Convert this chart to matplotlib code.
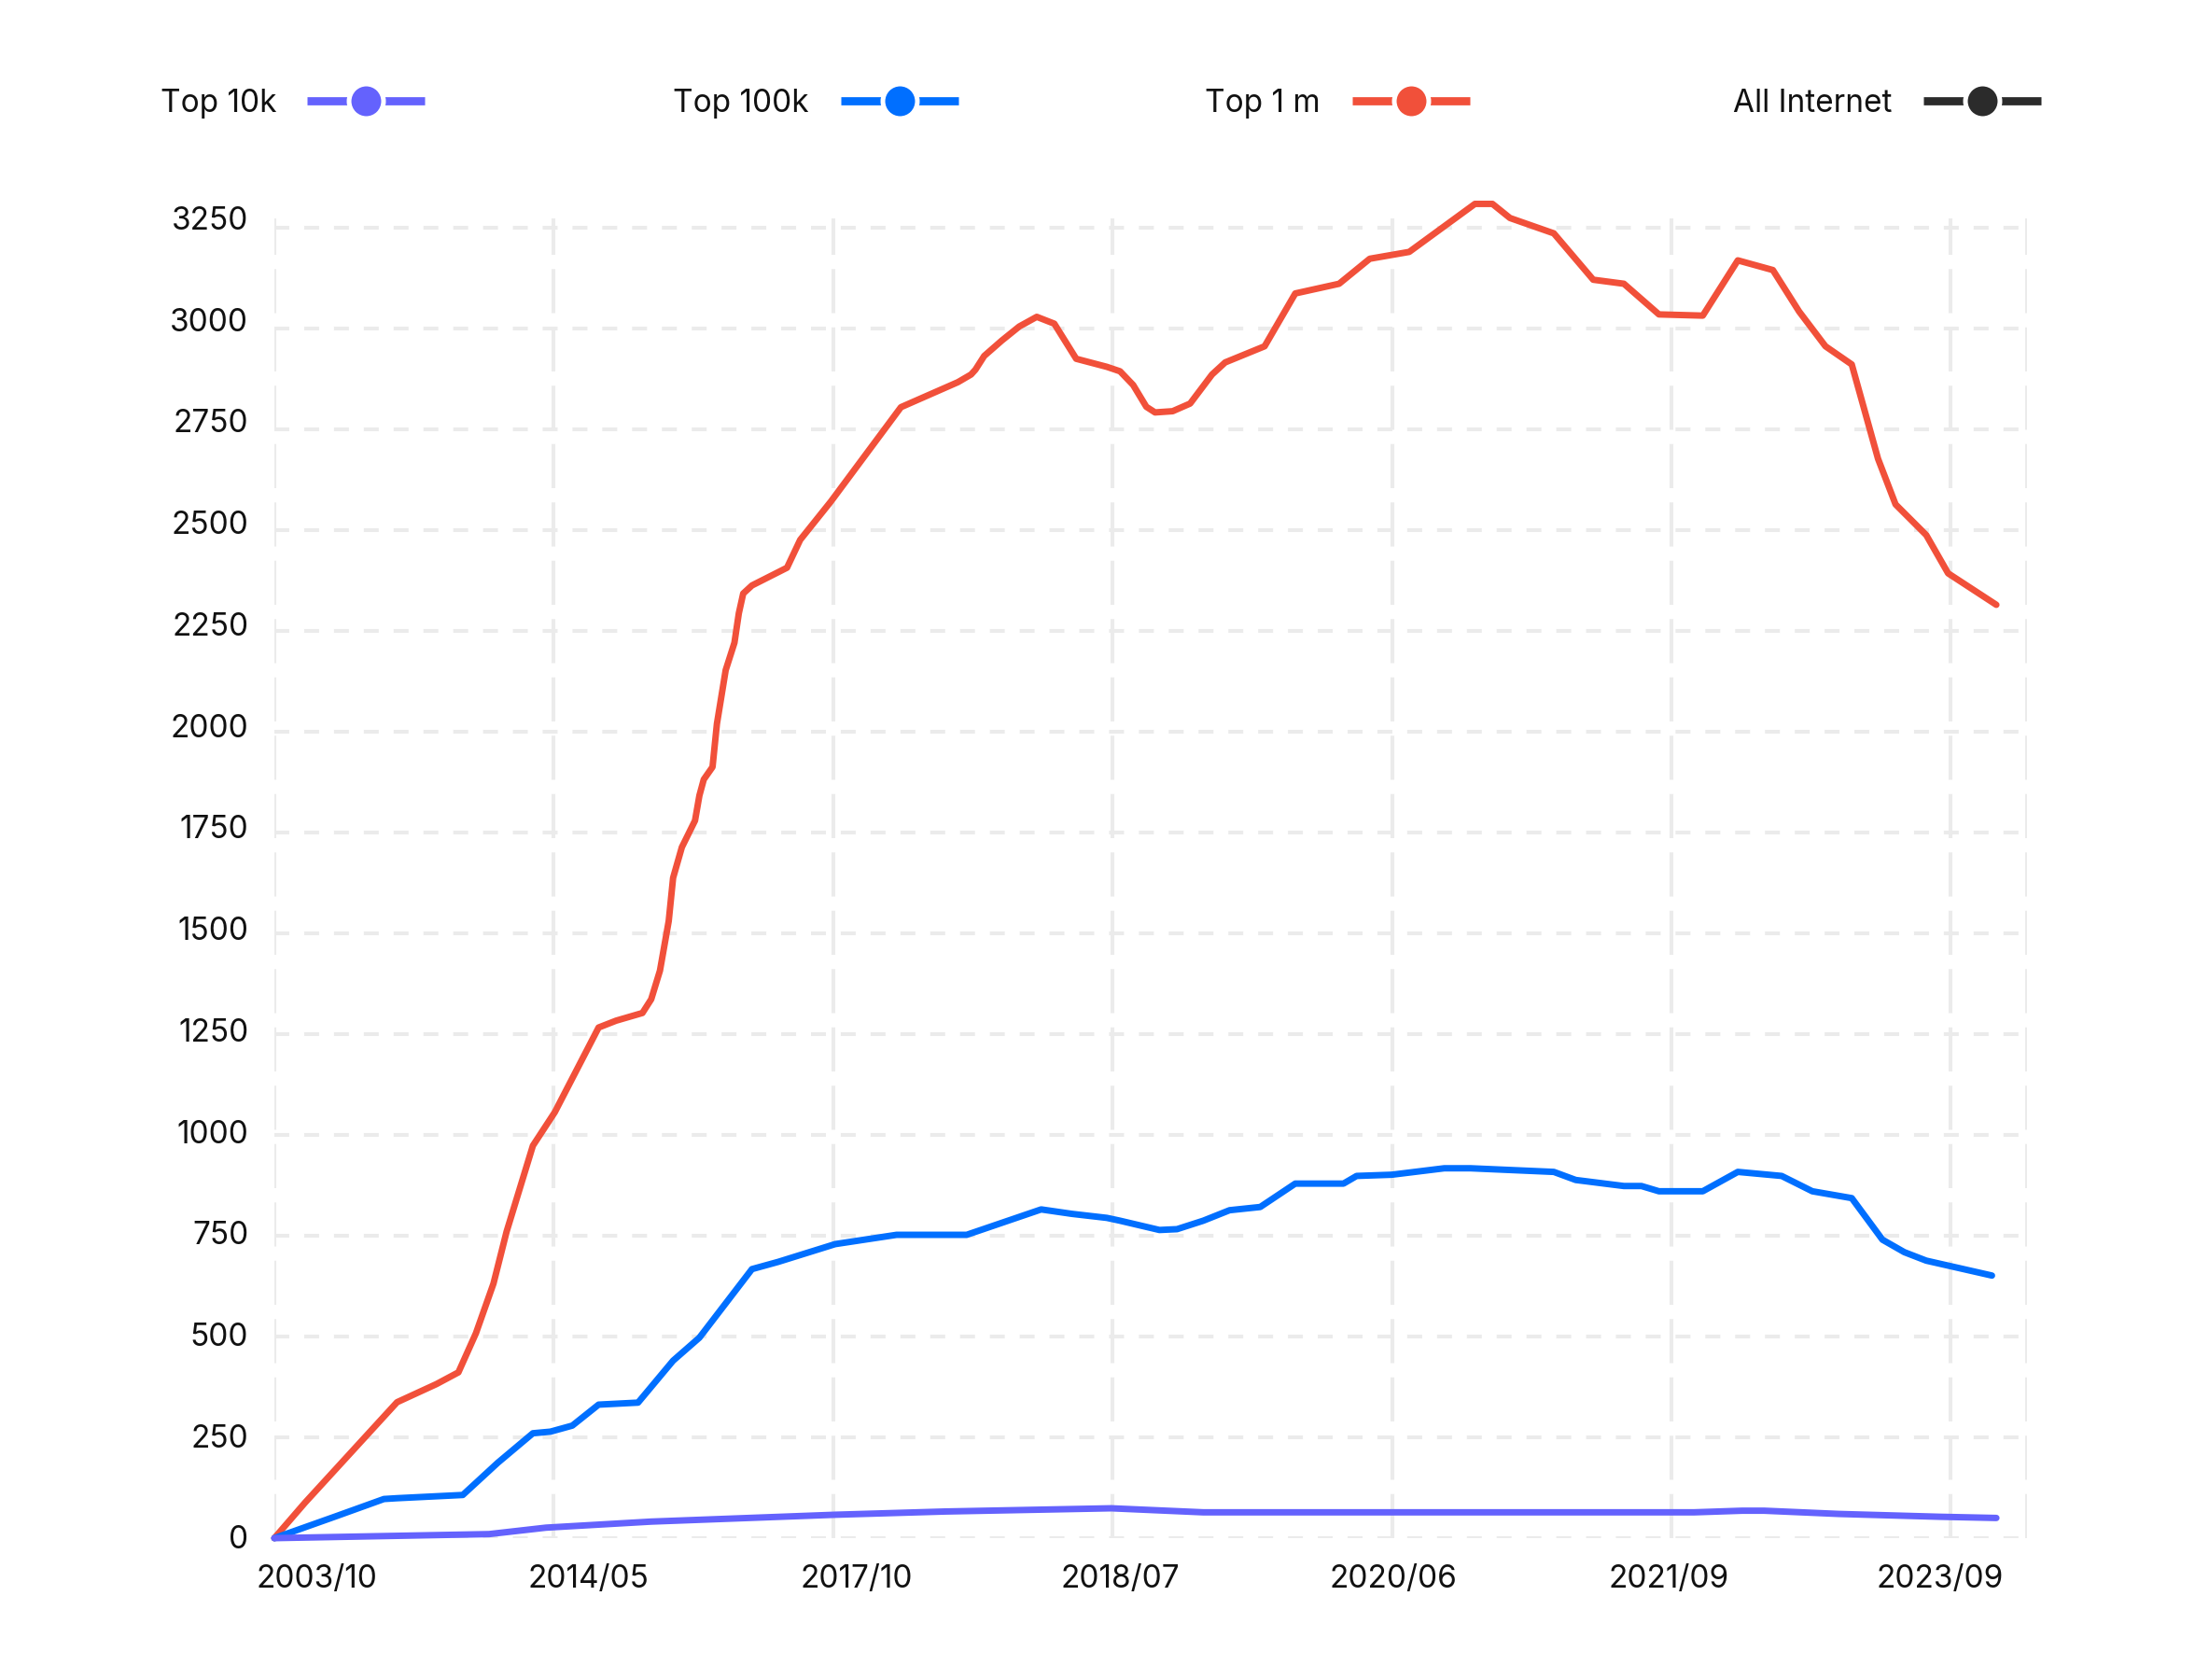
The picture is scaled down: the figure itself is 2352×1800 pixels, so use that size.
import matplotlib
matplotlib.use('Agg')
import matplotlib.pyplot as plt
from matplotlib.lines import Line2D

plt.rcParams['font.family'] = ['Inter', 'DejaVu Sans']
plt.rcParams['lines.scale_dashes'] = False

# ---------------- data ----------------
series_names = ['Top 10k', 'Top 100k', 'Top 1 m', 'All Internet']
series_colors = ['#6462fd', '#006fff', '#f1503a', '#2b2b2b']

x_tick_labels = ['2003/10', '2014/05', '2017/10', '2018/07', '2020/06', '2021/09', '2023/09']
y_tick_values = list(range(0, 3251, 250))

# x = category index on a 0..400 axis
top1m_idx = [0, 7, 28, 37, 42, 46, 50, 53, 59, 64, 74, 78, 84, 86, 88, 90, 91, 93, 96, 97, 98,
             100, 101, 103, 105, 106, 107, 109, 117, 120, 127, 143, 156, 159, 160, 162, 166,
             170, 174, 178, 183, 190, 193, 196, 199, 201, 205, 209, 214, 217, 226, 233, 243,
             250, 259, 274, 278, 282, 292, 301, 308, 316, 326, 334, 342, 348, 354, 360, 366,
             370, 377, 382, 393]
top1m_val = [0, 88, 337, 382, 411, 508, 631, 760, 973, 1056, 1266, 1283, 1302, 1336, 1407, 1530,
             1637, 1713, 1779, 1841, 1881, 1912, 2019, 2152, 2220, 2293, 2342, 2362, 2406, 2475,
             2570, 2804, 2866, 2885, 2897, 2931, 2969, 3004, 3028, 3011, 2924, 2904, 2893, 2859,
             2805, 2791, 2794, 2813, 2885, 2915, 2955, 3086, 3110, 3172, 3189, 3308, 3308, 3273,
             3235, 3120, 3110, 3034, 3031, 3168, 3144, 3041, 2955, 2910, 2676, 2563, 2487, 2392,
             2314]

top100k_idx = [0, 14, 25, 28, 43, 51, 59, 63, 68, 74, 83, 91, 97, 109, 115, 128, 142, 158, 175,
               182, 190, 193, 202, 206, 212, 218, 225, 233, 244, 247, 255, 267, 273, 292, 297,
               308, 312, 316, 326, 334, 344, 351, 360, 367, 372, 377, 392]
top100k_val = [0, 54, 97, 99, 107, 187, 260, 264, 279, 331, 336, 440, 497, 667, 685, 729, 752,
               752, 815, 804, 794, 787, 764, 766, 787, 813, 821, 879, 879, 898, 901, 917, 917,
               908, 888, 873, 873, 860, 860, 908, 898, 860, 843, 740, 709, 688, 651]

top10k_idx = [0, 49, 62, 86, 128, 153, 191, 212, 324, 335, 340, 357, 380, 393]
top10k_val = [0, 10, 26, 41, 58, 66, 74, 64, 64, 68, 68, 60, 53, 50]

# ---------------- layout ----------------
FW, FH = 2352, 1800
fig = plt.figure(figsize=(FW / 100, FH / 100), dpi=100)
ax = fig.add_axes([294 / FW, 1 - 1648 / FH, (2172 - 294) / FW, (1648 - 233.5) / FH])
ax.set_xlim(0, 400)
ax.set_ylim(0, 3250)
for s in ax.spines.values():
    s.set_visible(False)

grid_col = '#ebebeb'
for v in y_tick_values:
    ax.axhline(v, color=grid_col, lw=2.9, dashes=(11.5, 11.5), zorder=0)
for gx in [k * 63.77 for k in range(7)] + [400]:
    ax.axvline(gx, color=grid_col, lw=2.9, dashes=(34, 11), zorder=0)

lw = 5.0
ax.plot(top1m_idx, top1m_val, color=series_colors[2], lw=lw, solid_capstyle='round',
        solid_joinstyle='round', clip_on=False, zorder=3)
ax.plot(top100k_idx, top100k_val, color=series_colors[1], lw=lw, solid_capstyle='round',
        solid_joinstyle='round', clip_on=False, zorder=4)
ax.plot(top10k_idx, top10k_val, color=series_colors[0], lw=lw, solid_capstyle='round',
        solid_joinstyle='round', clip_on=False, zorder=5)

# tick labels (label positions slightly offset from gridlines as in the reference)
x_label_pos = [9.6, 71.6, 132.9, 193.0, 255.3, 318.2, 380.2]
ax.set_xticks(x_label_pos, x_tick_labels)
ax.set_yticks([v * 1.0064 + 2.4 for v in y_tick_values], [str(v) for v in y_tick_values])
ax.tick_params(axis='both', length=0, labelsize=24, colors='#111111')
ax.tick_params(axis='x', pad=20.5)
ax.tick_params(axis='y', pad=20)

# ---------------- legend ----------------
def fx(px):
    return px / FW

def fy(py):
    return 1 - py / FH

legend_text_right = [296, 867, 1415, 2027]
legend_icon_left = [329, 901, 1449, 2061]
icon_len = 126
ly = 108
for name, col, tr, il in zip(series_names, series_colors, legend_text_right, legend_icon_left):
    fig.text(fx(tr), fy(120), name, ha='right', va='baseline', fontsize=24, color='#111111')
    fig.add_artist(Line2D([fx(il), fx(il + icon_len)], [fy(ly), fy(ly)], transform=fig.transFigure,
                          color=col, lw=6.3, solid_capstyle='butt'))
    fig.add_artist(Line2D([fx(il + icon_len / 2)], [fy(ly)], transform=fig.transFigure,
                          marker='o', markersize=26.6, markerfacecolor=col,
                          markeredgecolor='white', markeredgewidth=3.6, linestyle='none'))

fig.savefig('out.png', dpi=100, facecolor='white')
